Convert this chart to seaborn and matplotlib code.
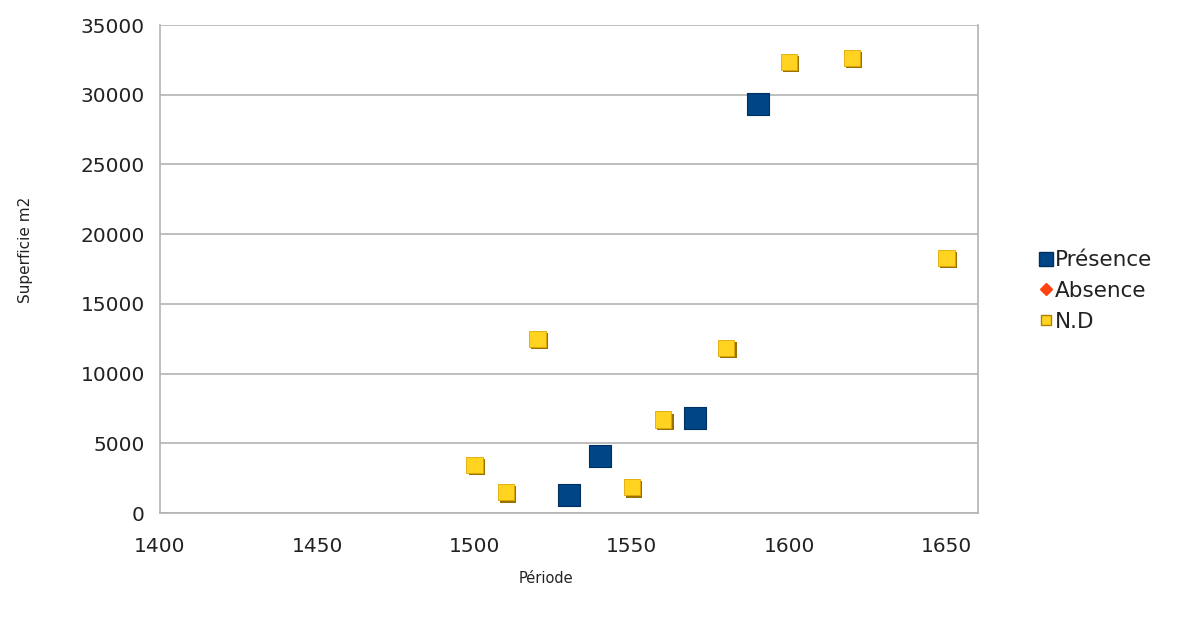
import numpy as np
import pandas as pd
import matplotlib
matplotlib.use("Agg")
import matplotlib.pyplot as plt
import matplotlib.patheffects as pe
from matplotlib.lines import Line2D
import seaborn as sns

# data
presence_periode = [1530, 1540, 1570, 1590]
presence_surface = [1300, 4100, 6800, 29350]
absence_periode = []
absence_surface = []
nd_periode = [1500, 1510, 1520, 1550, 1560, 1580, 1600, 1620, 1650]
nd_surface = [3450, 1500, 12500, 1850, 6700, 11850, 32350, 32650, 18300]

series_names = ["Présence", "Absence", "N.D"]
colors = {"Présence": "#004586", "Absence": "#ff420e", "N.D": "#ffd320"}

sns.set_style("white")
plt.rcParams["font.family"] = ["DejaVu Sans"]

grey = "#b3b3b3"
txt = "#222222"

fig = plt.figure(figsize=(11.78, 6.19), dpi=100)
ax = fig.add_axes([0.1358, 0.1712, 0.830 - 0.1358, 0.9596 - 0.1712])

df_p = pd.DataFrame({"Période": presence_periode, "Superficie": presence_surface})
df_nd = pd.DataFrame({"Période": nd_periode, "Superficie": nd_surface})

sns.scatterplot(data=df_p, x="Période", y="Superficie", marker="s", s=250,
                color=colors["Présence"], edgecolor="#003060", linewidth=0.8,
                ax=ax, zorder=3, legend=False)
sns.scatterplot(data=df_nd, x="Période", y="Superficie", marker="s", s=140,
                color=colors["N.D"], edgecolor="#e0a800", linewidth=0.6,
                ax=ax, zorder=3, legend=False)
# fake 3D bevel on the N.D markers
ax.collections[-1].set_path_effects([
    pe.SimplePatchShadow(offset=(1.6, -1.6), shadow_rgbFace="#9a7000", alpha=1.0),
    pe.Normal(),
])

ax.set_xlim(1400, 1660)
ax.set_ylim(0, 35000)
ax.set_xticks(np.arange(1400, 1651, 50))
ax.set_yticks(np.arange(0, 35001, 5000))
ax.yaxis.grid(True, color=grey, linewidth=1.2)
ax.set_axisbelow(True)
for side in ["left", "bottom", "right"]:
    ax.spines[side].set_visible(True)
    ax.spines[side].set_color(grey)
    ax.spines[side].set_linewidth(1.2)
ax.spines["top"].set_visible(False)
ax.tick_params(axis="both", which="major", direction="out", width=1.2,
               color=grey, labelsize=14.5, labelcolor=txt)
ax.tick_params(axis="x", length=7, pad=10)
ax.tick_params(axis="y", length=8, pad=3)

ax.set_xlabel("Période", fontsize=10.5, color=txt)
ax.set_ylabel("Superficie m2", fontsize=11, color=txt)
ax.xaxis.set_label_coords(0.472, -0.119)
ax.yaxis.set_label_coords(-0.155, 0.539)

handles = [
    Line2D([], [], linestyle="none", marker="s", markersize=10,
           markerfacecolor=colors["Présence"], markeredgecolor="#003060"),
    Line2D([], [], linestyle="none", marker="D", markersize=6,
           markerfacecolor=colors["Absence"], markeredgecolor=colors["Absence"]),
    Line2D([], [], linestyle="none", marker="s", markersize=7,
           markerfacecolor=colors["N.D"], markeredgecolor="#b08000"),
]
fig.legend(handles, series_names, loc="center left",
           bbox_to_anchor=(0.875, 0.53), frameon=False, fontsize=15.5,
           handlelength=0.6, handletextpad=0.1, labelspacing=0.5,
           borderaxespad=0, labelcolor=txt)

fig.savefig("out.png", dpi=100, facecolor="white")
